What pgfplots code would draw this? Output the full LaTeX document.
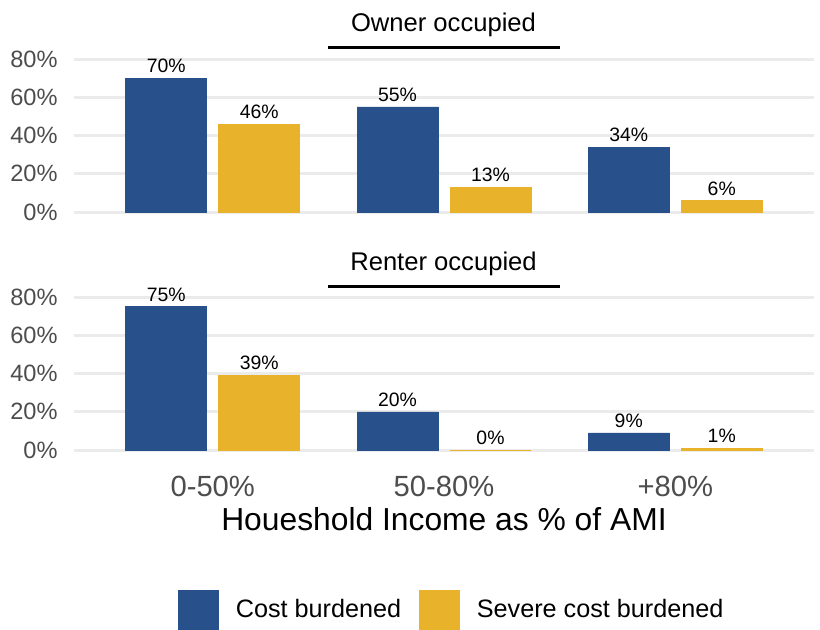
\documentclass[border=0pt]{standalone}
\usepackage{fontspec}
\setmainfont{Liberation Sans}
\usepackage{pgfplots}
\usepackage{pgfplotstable}
\pgfplotsset{compat=1.18}

\definecolor{cbblue}{RGB}{40,80,138}
\definecolor{cbgold}{RGB}{232,178,42}
\definecolor{gridgray}{RGB}{235,235,235}
\definecolor{ticgray}{RGB}{77,77,77}

% share (%) of households by income group
\pgfplotstableread{
grp cost severe
1 70 46
2 55 13
3 34 6
}\owner
\pgfplotstableread{
grp cost severe
1 75 39
2 20 0
3 9 1
}\renter

\pgfplotsset{panel/.style={
    scale only axis, width=370pt, height=84.15pt,
    xmin=0.4, xmax=3.6, ymin=-3, ymax=85,
    ybar=6pt, bar width=40.5pt,
    axis line style={draw=none}, major tick length=0pt,
    xtick={1,2,3}, ytick={0,20,40,60,80},
    yticklabels={0\%,20\%,40\%,60\%,80\%},
    ymajorgrids, grid style={gridgray, line width=1.5pt},
    yticklabel style={font=\fontsize{11.8}{12}\selectfont, text=ticgray, inner sep=0pt, anchor=east, xshift=-8pt},
    /pgf/number format/assume math mode=true,
    nodes near coords={\pgfmathprintnumber{\pgfplotspointmeta}\%},
    nodes near coords style={font=\fontsize{9.7}{10}\selectfont, inner sep=0pt, anchor=south, yshift=2.5pt, text=black},
}}

\begin{document}
\begin{tikzpicture}
\path[use as bounding box] (0,0) rectangle (410pt,-314.5pt);

\begin{axis}[panel, at={(37pt,-108.9pt)}, anchor=south west, xticklabels={}]
  \addplot[fill=cbblue, draw=cbblue, line width=0.3pt] table[x=grp, y=cost] {\owner};
  \addplot[fill=cbgold, draw=cbgold, line width=0.3pt] table[x=grp, y=severe] {\owner};
\end{axis}

\begin{axis}[panel, at={(37pt,-227.9pt)}, anchor=south west,
    xticklabels={0-50\%,50-80\%,+80\%},
    xticklabel style={font=\fontsize{14.6}{15}\selectfont, text=ticgray, inner sep=0pt, anchor=base, yshift=-20.15pt},
    xlabel={Houeshold Income as \% of AMI},
    xlabel style={font=\fontsize{15.9}{17}\selectfont, at={(axis description cs:0.5,0)}, anchor=base, inner sep=0pt, yshift=-37.15pt},
    legend style={draw=none, fill=none, legend columns=2, at={(0.512,-0.916)}, anchor=center,
      font=\fontsize{12.6}{14}\selectfont,
      /tikz/every odd column/.append style={column sep=6.5pt},
      /tikz/every even column/.append style={column sep=7pt}},
    legend image code/.code={\fill[#1] (0pt,-10pt) rectangle (20pt,10pt);},
  ]
  \addplot[fill=cbblue, draw=cbblue, line width=0.3pt] table[x=grp, y=cost] {\renter};
  \addplot[fill=cbgold, draw=cbgold, line width=0.3pt] table[x=grp, y=severe] {\renter};
  \legend{Cost burdened, Severe cost burdened}
\end{axis}

\node[font=\fontsize{12.8}{14}\selectfont, anchor=base] at (221.75pt,-15.8pt) {Owner occupied};
\draw[line width=1.5pt] (164pt,-23.5pt) -- (280pt,-23.5pt);
\node[font=\fontsize{12.8}{14}\selectfont, anchor=base] at (221.75pt,-135pt) {Renter occupied};
\draw[line width=1.5pt] (164pt,-143pt) -- (280pt,-143pt);
\end{tikzpicture}
\end{document}
